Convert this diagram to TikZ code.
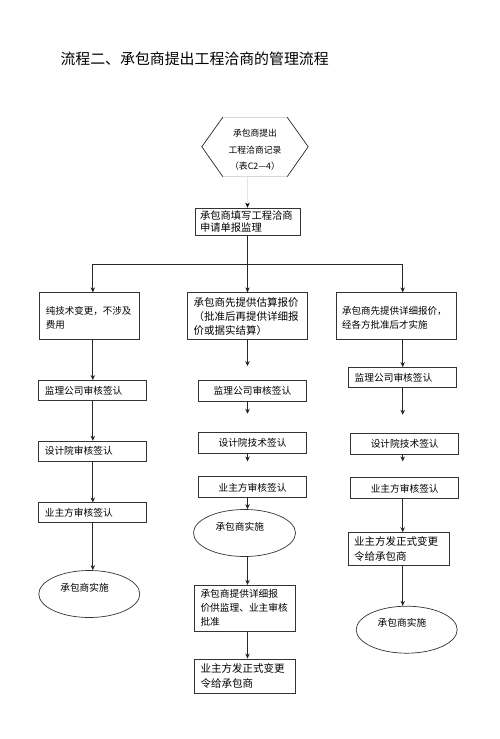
\documentclass[tikz,border=0pt]{standalone}
\usepackage{fontspec}
\setmainfont{Noto Sans CJK SC}
\usetikzlibrary{arrows.meta,positioning,shapes}

\begin{document}
\begin{tikzpicture}[
  x=1pt, y=-1pt,
  box/.style={draw=black!80, line width=0.7pt, font=\fontsize{9.7}{14}\selectfont, inner xsep=6pt, inner ysep=2pt},
  sbox/.style={box, minimum width=108pt, minimum height=21pt},
  lbox/.style={box, text width=96pt, align=left, minimum height=20pt},
  oval/.style={ellipse, draw=black!80, line width=0.7pt, minimum width=101pt, minimum height=47pt, inner sep=1pt, font=\fontsize{9.7}{14}\selectfont, text width=58pt, align=left, text depth=14pt},
  arr/.style={-{Stealth[length=5pt,width=4.5pt]}, line width=0.7pt, draw=black!85},
  edge/.style={line width=0.7pt, draw=black!85},
  faint/.style={line width=0.5pt, draw=black!15}
]
\useasboundingbox (0,0) rectangle (500,739);

\node[anchor=west, font=\fontsize{14.9}{18}\selectfont] (title) at (57,59) {流程二、承包商提出工程洽商的管理流程};

\node[box, font=\fontsize{10.3}{12.5}\selectfont, text width=95pt, align=left, minimum height=27pt, inner xsep=5pt] (req) at (247.5,221.5) {承包商填写工程洽商\\申请单报监理};
\node[font=\fontsize{8.8}{16.5}\selectfont, align=center, minimum width=64pt, minimum height=59pt, inner sep=0pt, text height=46pt, above=31pt of req, xshift=7.5pt] (hex) {承包商提出\\工程洽商记录\\（表C2—4）};

% three branches
\node[box, font=\fontsize{10.5}{14}\selectfont, text width=108pt, align=left, minimum height=47pt, below=57pt of req] (est) {承包商先提供估算报价\\（批准后再提供详细报\\价或据实结算）};
\node[box, font=\fontsize{9.5}{14.5}\selectfont, text width=88pt, align=left, minimum height=47pt, text depth=12pt, left=47pt of est] (tech) {纯技术变更，不涉及\\费用};
\node[box, font=\fontsize{9.5}{14.5}\selectfont, text width=108pt, align=left, minimum height=47pt, text depth=12pt, right=28pt of est] (det) {承包商先提供详细报价，\\经各方批准后才实施};

% left column
\node[lbox, below=40pt of tech, xshift=3pt] (sup1) {监理公司审核签认};
\node[lbox, below=40pt of sup1] (des1) {设计院审核签认};
\node[lbox, below=41pt of des1] (own1) {业主方审核签认};
\node[oval, below=47pt of own1, xshift=-3.5pt] (imp1) {承包商实施};

% middle column
\node[sbox, below=40pt of est, xshift=5pt] (sup2) {监理公司审核签认};
\node[sbox, below=30pt of sup2] (des2) {设计院技术签认};
\node[sbox, below=23pt of des2] (own2) {业主方审核签认};
\node[oval, minimum width=102pt, below=11pt of own2, xshift=-8pt] (imp2) {承包商实施};
\node[box, text width=89pt, align=left, minimum height=46pt, below=28pt of imp2, xshift=0.5pt] (quote) {承包商提供详细报\\价供监理、业主审核\\批准};
\node[box, font=\fontsize{10.5}{15}\selectfont, text width=89pt, align=left, minimum height=34pt, below=27pt of quote] (order2) {业主方发正式变更\\令给承包商};

% right column
\node[lbox, below=27pt of det, xshift=6.5pt] (sup3) {监理公司审核签认};
\node[sbox, below=45pt of sup3, xshift=2pt] (des3) {设计院技术签认};
\node[sbox, below=23pt of des3] (own3) {业主方审核签认};
\node[box, font=\fontsize{10.5}{15}\selectfont, text width=89pt, align=left, minimum height=33pt, below=33pt of own3, xshift=-6pt] (order3) {业主方发正式变更\\令给承包商};
\node[oval, below=40pt of order3, xshift=8pt] (imp3) {承包商实施};

% hexagon outline
\draw[faint] (hex.north west) -- (hex.north east) (hex.south west) -- (hex.south east);
\draw[edge] (hex.north west) -- ++(-21,29.5) -- (hex.south west);
\draw[edge] (hex.north east) -- ++(21,29.5) -- (hex.south east);

\draw[-{Stealth[length=5pt,width=4.5pt,color=black]}, line width=0.7pt, draw=black!10] (hex.south -| est) -- (req.north -| est);

\coordinate[above=28pt of est] (fork);
\draw[arr] (req.south -| est) -- (est);
\draw[arr] (fork) -| (tech.north -| sup1);
\draw[arr] (fork) -| (det.north -| sup3);

\draw[arr] (tech.south -| sup1) -- (sup1);
\draw[arr] (sup1) -- (des1);
\draw[arr] (des1) -- (own1);
\draw[arr] (own1) -- (own1 |- imp1.north);

\draw[arr, shorten >=14pt] (est) -- (est |- sup2.north);
\draw[arr, shorten >=18pt] (sup2.south -| est) -- (des2.north -| est);
\draw[arr, shorten >=15pt] (des2.south -| est) -- (own2.north -| est);
\draw[arr] (own2.south -| est) -- (imp2.north -| est);
\draw[arr] (imp2.south -| est) -- (quote.north -| est);
\draw[arr] (quote.south -| est) -- (order2.north -| est);

\draw[arr] (det.south -| sup3) -- (sup3);
\draw[arr, shorten >=18pt] (sup3) -- (sup3 |- des3.north);
\draw[arr, shorten >=16pt] (sup3 |- des3.south) -- (sup3 |- own3.north);
\draw[arr] (sup3 |- own3.south) -- (sup3 |- order3.north);
\draw[arr] (sup3 |- order3.south) -- (sup3 |- imp3.north);
\end{tikzpicture}
\end{document}
